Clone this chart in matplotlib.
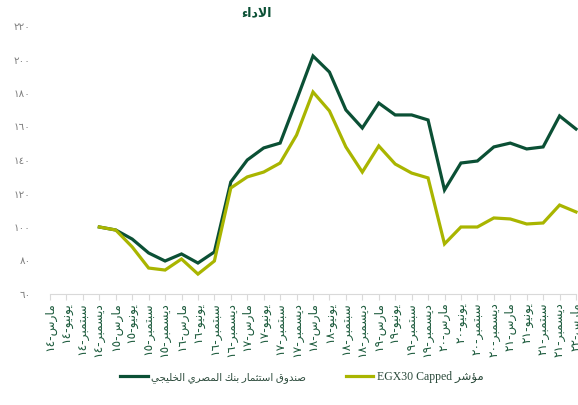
import matplotlib
matplotlib.use("Agg")
import matplotlib.pyplot as plt
import numpy as np

# Arabic months and years used on the x axis (quarter ends)
months = ["مارس", "يونيو", "سبتمبر", "ديسمبر"]
years = ["١٤", "١٥", "١٦", "١٧", "١٨", "١٩", "٢٠", "٢١", "٢٢"]

# Series values, Dec-14 .. Mar-22
fund = [100, 98.2, 92.8, 84.5, 79.7, 83.9, 78.5, 85.1, 126.9, 140, 147.2, 150.1,
        175.8, 202.1, 192.5, 169.9, 159.1, 174, 166.9, 166.9, 163.9, 122.1, 138.2,
        139.4, 147.8, 150.1, 146.6, 147.8, 166.3, 158.5]
egx30 = [100, 98.2, 88.1, 75.5, 74.3, 80.9, 71.9, 79.7, 123.3, 129.9, 132.8, 138.2,
         154.9, 180.6, 169.3, 147.8, 132.8, 148.4, 137.6, 132.2, 129.3, 89.9, 100,
         100, 105.4, 104.8, 101.8, 102.4, 113.1, 109]

fund_name = "صندوق استثمار بنك المصري الخليجي"
index_name = "مؤشر"
title = "الاداء"
yticks = [60, 80, 100, 120, 140, 160, 180, 200, 220]

# matplotlib does no arabic shaping -> use presentation forms by hand
forms = {
    'ء': (0xFE80, 'U'), 'ؤ': (0xFE85, 'R'), 'ا': (0xFE8D, 'R'), 'ب': (0xFE8F, 'D'),
    'ت': (0xFE95, 'D'), 'ث': (0xFE99, 'D'), 'ج': (0xFE9D, 'D'), 'خ': (0xFEA5, 'D'),
    'د': (0xFEA9, 'R'), 'ر': (0xFEAD, 'R'), 'س': (0xFEB1, 'D'), 'ش': (0xFEB5, 'D'),
    'ص': (0xFEB9, 'D'), 'ق': (0xFED5, 'D'), 'ك': (0xFED9, 'D'), 'ل': (0xFEDD, 'D'),
    'م': (0xFEE1, 'D'), 'ن': (0xFEE5, 'D'), 'و': (0xFEED, 'R'), 'ي': (0xFEF1, 'D'),
    '\ufefb': (0xFEFB, 'R'),
}


def rtl(text):
    text = text.replace('لا', '\ufefb')
    out = []
    for i, ch in enumerate(text):
        if ch not in forms:
            out.append(ch)
            continue
        base, kind = forms[ch]
        prev = text[i - 1] if i > 0 else ''
        nxt = text[i + 1] if i + 1 < len(text) else ''
        join_prev = kind != 'U' and prev in forms and forms[prev][1] == 'D'
        join_next = kind == 'D' and nxt in forms and forms[nxt][1] != 'U'
        if join_prev and join_next:
            base += 3
        elif join_prev:
            base += 1
        elif join_next:
            base += 2
        out.append(chr(base))
    return ''.join(out)[::-1]


arabic_digits = str.maketrans("0123456789", "٠١٢٣٤٥٦٧٨٩")

labels = []
for y in years:
    for m in months:
        labels.append(y + "-" + rtl(m))
labels = labels[:33]

dark = '#0b5035'
olive = '#a9b500'

plt.rcParams['font.family'] = ['DejaVu Sans']

fig = plt.figure(figsize=(5.78, 4.05), dpi=100)
ax = fig.add_axes([50 / 578, 1 - 294 / 405, 526 / 578, 268 / 405])

x = np.arange(3, 3 + len(fund))
ax.plot(x, fund, color=dark, lw=2.3, label=rtl(fund_name), clip_on=False,
        solid_joinstyle='miter')
ax.plot(x, egx30, color=olive, lw=2.3, label="EGX30 Capped " + rtl(index_name),
        clip_on=False, solid_joinstyle='miter')

ax.set_xlim(0, 32)
ax.set_ylim(60, 220)
ax.set_xticks(np.arange(len(labels)))
ax.set_xticklabels(labels, rotation=90, fontsize=8.8, color='#1d5b3d')
ax.set_yticks(yticks)
ax.set_yticklabels([str(v).translate(arabic_digits) for v in yticks],
                   fontsize=7.5, color='#7f7f7f')
ax.tick_params(axis='x', length=4, color='#d9d9d9', pad=2)
ax.tick_params(axis='y', length=0, pad=14)

for s in ['top', 'right', 'left']:
    ax.spines[s].set_visible(False)
ax.spines['bottom'].set_color('#d9d9d9')

fig.text(257 / 578, 1 - 13 / 405, rtl(title), ha='center', va='center',
         fontsize=9, fontweight='bold', color=dark)

leg = fig.legend(loc='center', bbox_to_anchor=(302 / 578, 1 - 377 / 405), ncol=2,
                 frameon=False, handlelength=2.3, handletextpad=0.3, columnspacing=3.4,
                 prop={'family': ['Liberation Serif', 'DejaVu Sans'], 'size': 8.5},
                 labelcolor='#2b4a3b')
leg.get_texts()[0].set_fontsize(7.4)

plt.savefig("out.png", dpi=100)
